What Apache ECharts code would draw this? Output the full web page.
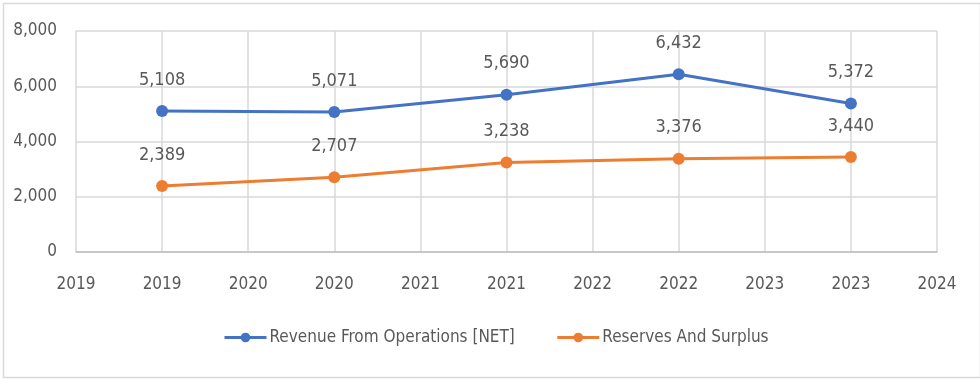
<!DOCTYPE html>
<html>
<head>
<meta charset="utf-8">
<script src="https://cdn.jsdelivr.net/npm/echarts@6/dist/echarts.min.js"></script>
<style>
html,body{margin:0;padding:0;background:#fff;}
#chart{width:980px;height:379px;}
</style>
</head>
<body>
<div id="chart"></div>
<script>
// Tick labels on the x axis (as shown in the reference, Excel date-axis style)
var xTickLabels = ["2019","2019","2020","2020","2021","2021","2022","2022","2023","2023","2024"];
// Years of the data points and the tick index each one sits on
var years = ["2019","2020","2021","2022","2023"];
var yearTickIndex = [1,3,5,7,9];
var revenueValues = [5108, 5071, 5690, 6432, 5372];
var reservesValues = [2389, 2707, 3238, 3376, 3440];
var seriesNames = ["Revenue From Operations [NET]", "Reserves And Surplus"];
var yTicks = [0, 2000, 4000, 6000, 8000];

function placeOnTicks(values) {
  var arr = xTickLabels.map(function(){ return null; });
  yearTickIndex.forEach(function(idx, i){ arr[idx] = values[i]; });
  return arr;
}

var FONT = '"Liberation Sans Narrow","DejaVu Sans Condensed","Liberation Sans",sans-serif';
var TXT = '#595959';
function fmt(v){ return Number(v).toLocaleString('en-US'); }

var chart = echarts.init(document.getElementById('chart'), null, {renderer:'canvas'});
chart.setOption({
  animation: false,
  backgroundColor: '#fff',
  textStyle: {fontFamily: FONT},
  graphic: [{
    type: 'rect', left: 1, top: 1, z: 0,
    shape: {width: 977, height: 374},
    style: {fill: 'none', stroke: '#d9d9d9', lineWidth: 1.5}
  }],
  grid: {left: 76, right: 43, top: 31, bottom: 127, containLabel: false},
  legend: {
    top: 324, left: 218, itemGap: 41,
    itemWidth: 42, itemHeight: 12,
    lineStyle: {width: 3},
    textStyle: {color: TXT, fontSize: 17, fontFamily: FONT, padding: [0,0,0,-2]},
    data: seriesNames
  },
  xAxis: {
    type: 'category',
    boundaryGap: false,
    data: xTickLabels,
    axisLine: {show: true, lineStyle: {color: '#bfbfbf', width: 1.5}},
    axisTick: {show: false},
    axisLabel: {color: TXT, fontSize: 17, fontFamily: FONT, margin: 24, interval: 0},
    splitLine: {show: true, lineStyle: {color: '#d9d9d9', width: 1.5}}
  },
  yAxis: {
    type: 'value',
    min: yTicks[0], max: yTicks[yTicks.length-1], interval: 2000,
    axisLine: {show: false},
    axisTick: {show: false},
    axisLabel: {color: TXT, fontSize: 17, fontFamily: FONT, margin: 19, formatter: fmt},
    splitLine: {show: true, lineStyle: {color: '#d9d9d9', width: 1.5}}
  },
  series: [{
    name: seriesNames[0], type: 'line',
    data: placeOnTicks(revenueValues),
    connectNulls: true,
    color: '#4472C4',
    lineStyle: {width: 3, color: '#4472C4'},
    symbol: 'circle', symbolSize: 12,
    itemStyle: {color: '#4472C4'},
    label: {show: true, position: 'top', distance: 16, color: TXT, fontSize: 18, fontFamily: FONT, formatter: function(p){ return fmt(p.value); }}
  },{
    name: seriesNames[1], type: 'line',
    data: placeOnTicks(reservesValues),
    connectNulls: true,
    color: '#ED7D31',
    lineStyle: {width: 3, color: '#ED7D31'},
    symbol: 'circle', symbolSize: 12,
    itemStyle: {color: '#ED7D31'},
    label: {show: true, position: 'top', distance: 16, color: TXT, fontSize: 18, fontFamily: FONT, formatter: function(p){ return fmt(p.value); }}
  }]
});
</script>
</body>
</html>
